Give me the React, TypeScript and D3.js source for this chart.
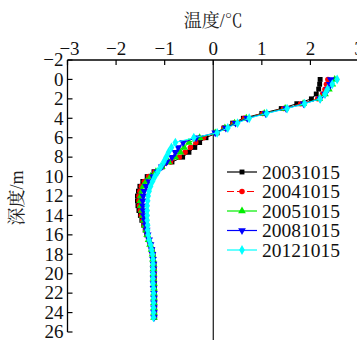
import React, { useRef, useEffect } from "react";
import * as d3 from "d3";

// depth (m), every 0.5 m from 0 to 24.5
const depths = [
  0, 0.5, 1, 1.5, 2, 2.5, 3, 3.5, 4, 4.5, 5, 5.5, 6, 6.5, 7, 7.5, 8, 8.5, 9, 9.5,
  10, 10.5, 11, 11.5, 12, 12.5, 13, 13.5, 14, 14.5, 15, 15.5, 16, 16.5, 17, 17.5,
  18, 18.5, 19, 19.5, 20, 20.5, 21, 21.5, 22, 22.5, 23, 23.5, 24, 24.5,
];

const t20031015 = [
  2.2, 2.19, 2.17, 2.12, 2.02, 1.72, 1.4, 1.0, 0.62, 0.4, 0.22, 0.08, -0.15, -0.28,
  -0.38, -0.5, -0.63, -0.85, -1.05, -1.22, -1.36, -1.45, -1.51, -1.54, -1.56, -1.56,
  -1.55, -1.53, -1.5, -1.47, -1.43, -1.4, -1.37, -1.33, -1.29, -1.26, -1.24, -1.23,
  -1.22, -1.22, -1.22, -1.22, -1.21, -1.21, -1.21, -1.21, -1.21, -1.21, -1.21, -1.21,
];
const t20041015 = [
  2.36, 2.33, 2.3, 2.25, 2.15, 1.8, 1.45, 1.02, 0.64, 0.42, 0.22, 0.06, -0.2, -0.36,
  -0.47, -0.58, -0.7, -0.88, -1.05, -1.2, -1.33, -1.42, -1.48, -1.51, -1.53, -1.53,
  -1.52, -1.5, -1.48, -1.45, -1.42, -1.39, -1.36, -1.33, -1.3, -1.27, -1.25, -1.24,
  -1.23, -1.22, -1.22, -1.22, -1.22, -1.22, -1.22, -1.21, -1.21, -1.21, -1.21, -1.21,
];
const t20051015 = [
  2.5, 2.45, 2.38, 2.3, 2.18, 1.85, 1.48, 1.05, 0.68, 0.44, 0.24, 0.04, -0.28, -0.5,
  -0.6, -0.68, -0.78, -0.92, -1.06, -1.18, -1.29, -1.38, -1.44, -1.47, -1.49, -1.5,
  -1.49, -1.47, -1.45, -1.43, -1.41, -1.38, -1.36, -1.33, -1.3, -1.27, -1.25, -1.24,
  -1.23, -1.23, -1.23, -1.23, -1.22, -1.22, -1.22, -1.22, -1.22, -1.22, -1.22, -1.22,
];
const t20081015 = [
  2.42, 2.4, 2.36, 2.3, 2.2, 1.86, 1.5, 1.08, 0.7, 0.46, 0.26, 0.04, -0.35, -0.62,
  -0.72, -0.78, -0.85, -0.96, -1.06, -1.15, -1.24, -1.32, -1.38, -1.42, -1.44, -1.45,
  -1.45, -1.44, -1.43, -1.41, -1.39, -1.37, -1.35, -1.32, -1.29, -1.27, -1.25, -1.24,
  -1.23, -1.23, -1.23, -1.23, -1.23, -1.23, -1.22, -1.22, -1.22, -1.22, -1.22, -1.22,
];
const t20121015 = [
  2.55, 2.45, 2.35, 2.3, 2.2, 1.88, 1.52, 1.1, 0.74, 0.5, 0.3, 0.08, -0.4, -0.78,
  -0.86, -0.92, -0.97, -1.02, -1.08, -1.14, -1.2, -1.25, -1.29, -1.32, -1.34, -1.35,
  -1.36, -1.36, -1.36, -1.36, -1.35, -1.35, -1.34, -1.32, -1.29, -1.27, -1.25, -1.24,
  -1.24, -1.24, -1.24, -1.24, -1.24, -1.23, -1.23, -1.23, -1.23, -1.23, -1.23, -1.23,
];

const seriesNames = ["20031015", "20041015", "20051015", "20081015", "20121015"];
const seriesValues = [t20031015, t20041015, t20051015, t20081015, t20121015];
const seriesColors = ["#000000", "#ff0000", "#00ee00", "#0000ff", "#00ffff"];

const xTicks = [-3, -2, -1, 0, 1, 2, 3];
const yTicks = [-2, 0, 2, 4, 6, 8, 10, 12, 14, 16, 18, 20, 22, 24, 26];

const W = 357;
const H = 340;
const serif = "'Liberation Serif', 'Times New Roman', 'Noto Serif CJK SC', 'Noto Sans CJK SC', serif";

export default function App() {
  const ref = useRef<SVGSVGElement>(null);

  useEffect(() => {
    const svg = d3.select(ref.current);
    svg.selectAll("*").remove();

    const x = d3.scaleLinear().domain([-3, 3]).range([67.5, 359]);
    const y = d3.scaleLinear().domain([-2, 26]).range([60, 332]);

    const fmt = (v: number) => (v < 0 ? "\u2212" + Math.abs(v) : String(v));

    // axes
    svg.append("line")
      .attr("x1", x(-3)).attr("x2", W + 5)
      .attr("y1", y(-2)).attr("y2", y(-2))
      .attr("stroke", "#000").attr("stroke-width", 1.3);
    svg.append("line")
      .attr("x1", x(-3)).attr("x2", x(-3))
      .attr("y1", y(-2)).attr("y2", y(26))
      .attr("stroke", "#000").attr("stroke-width", 1.3);
    svg.append("line")
      .attr("x1", x(0)).attr("x2", x(0))
      .attr("y1", y(-2)).attr("y2", H)
      .attr("stroke", "#000").attr("stroke-width", 1.1);

    xTicks.forEach((t) => {
      svg.append("line")
        .attr("x1", x(t)).attr("x2", x(t))
        .attr("y1", y(-2)).attr("y2", y(-2) + 5)
        .attr("stroke", "#000").attr("stroke-width", 1.2);
      svg.append("text")
        .attr("x", x(t) + (t === -3 ? 2 : 0))
        .attr("y", y(-2) - 5)
        .attr("text-anchor", "middle")
        .attr("font-family", serif)
        .attr("font-size", 19)
        .attr("fill", "#111")
        .text(fmt(t));
    });

    yTicks.forEach((t) => {
      svg.append("line")
        .attr("x1", x(-3)).attr("x2", x(-3) + 5)
        .attr("y1", y(t)).attr("y2", y(t))
        .attr("stroke", "#000").attr("stroke-width", 1.2);
      svg.append("text")
        .attr("x", x(-3) - 4)
        .attr("y", y(t))
        .attr("dy", "0.33em")
        .attr("text-anchor", "end")
        .attr("font-family", serif)
        .attr("font-size", 19)
        .attr("fill", "#111")
        .text(fmt(t));
    });

    // axis titles
    svg.append("text")
      .attr("x", x(0))
      .attr("y", 27)
      .attr("text-anchor", "middle")
      .attr("font-family", serif)
      .attr("font-size", 18)
      .attr("fill", "#222")
      .text("温度/℃");
    svg.append("text")
      .attr("transform", `translate(23,198) rotate(-90)`)
      .attr("text-anchor", "middle")
      .attr("font-family", serif)
      .attr("font-size", 18)
      .attr("fill", "#222")
      .text("深度/m");

    const symbols = [
      d3.symbol().type(d3.symbolSquare).size(24),
      d3.symbol().type(d3.symbolCircle).size(24),
      d3.symbol().type(d3.symbolTriangle).size(26),
      d3.symbol().type(d3.symbolTriangle).size(26),
      d3.symbol().type(d3.symbolDiamond).size(28),
    ];
    const rotations = [0, 0, 0, 180, 0];
    const dashes = [null, "7,3", null, null, null];

    const line = d3.line<[number, number]>()
      .x((d) => x(d[0]))
      .y((d) => y(d[1]));

    const plot = svg.append("g");
    seriesValues.forEach((vals, i) => {
      const pts: [number, number][] = vals.map((v, k) => [v, depths[k]]);
      plot.append("path")
        .attr("d", line(pts))
        .attr("fill", "none")
        .attr("stroke", seriesColors[i])
        .attr("stroke-width", 1)
        .attr("stroke-dasharray", dashes[i]);
      plot.selectAll(null)
        .data(pts)
        .enter()
        .append("path")
        .attr("d", symbols[i]() as string)
        .attr("transform", (d) => `translate(${x(d[0])},${y(d[1])}) rotate(${rotations[i]})`)
        .attr("fill", seriesColors[i]);
    });

    // legend
    const legend = svg.append("g");
    seriesNames.forEach((name, i) => {
      const ly = 172 + i * 19.5;
      legend.append("line")
        .attr("x1", 227).attr("x2", 257)
        .attr("y1", ly).attr("y2", ly)
        .attr("stroke", seriesColors[i])
        .attr("stroke-width", 1.2)
        .attr("stroke-dasharray", dashes[i]);
      legend.append("path")
        .attr("d", symbols[i]() as string)
        .attr("transform", `translate(242,${ly}) rotate(${rotations[i]})`)
        .attr("fill", seriesColors[i]);
      legend.append("text")
        .attr("x", 262)
        .attr("y", ly)
        .attr("dy", "0.35em")
        .attr("font-family", serif)
        .attr("font-size", 19.5)
        .attr("fill", "#111")
        .text(name);
    });

    return () => {
      svg.selectAll("*").remove();
    };
  }, []);

  return (
    <svg
      ref={ref}
      width={W}
      height={H}
      style={{ position: "absolute", left: 0, top: 0, background: "#fff" }}
    />
  );
}
